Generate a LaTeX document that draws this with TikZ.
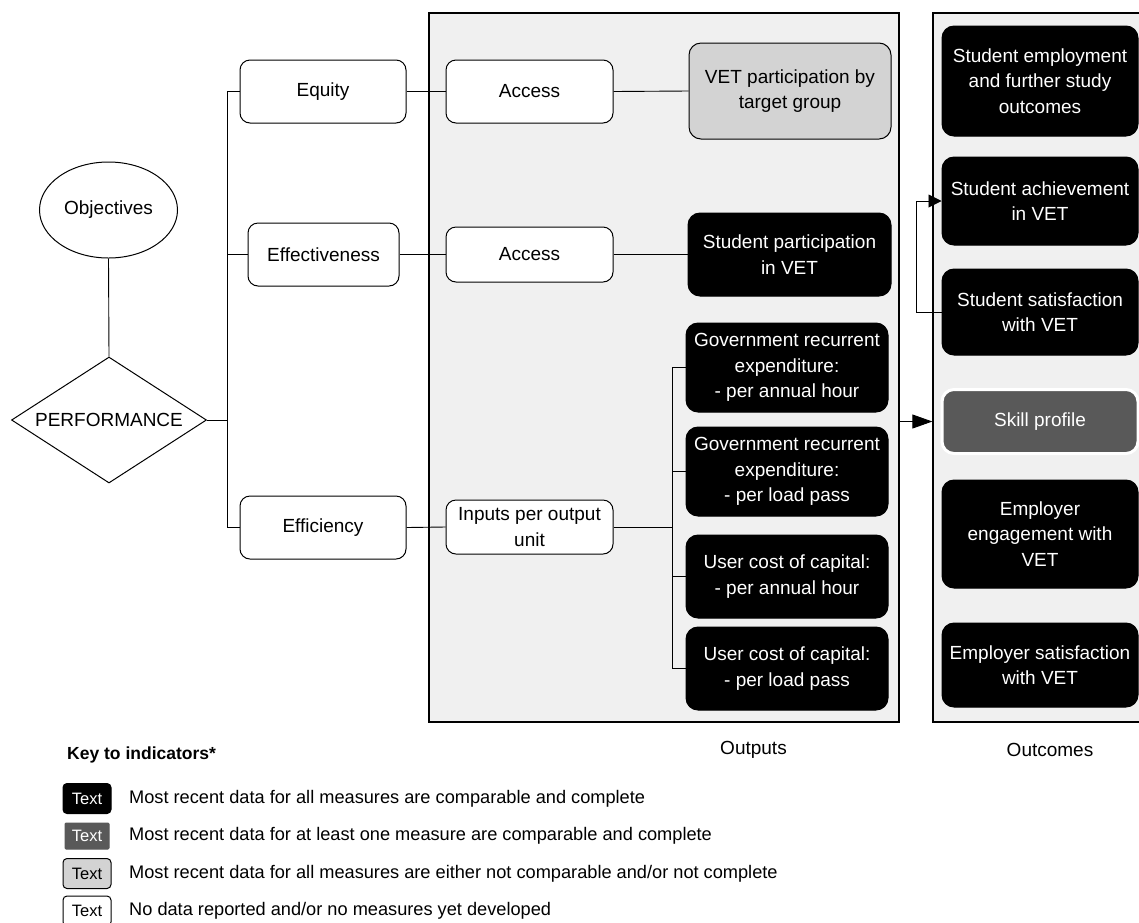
\documentclass[tikz,border=0pt]{standalone}
\usepackage{fontspec}
\setmainfont{Liberation Sans}
\usetikzlibrary{shapes.geometric,arrows.meta}
\definecolor{panelgray}{HTML}{F0F0F0}
\definecolor{lightbox}{HTML}{D3D3D3}
\definecolor{darkbox}{HTML}{595959}
\tikzset{
  x=1pt, y=-1pt,
  basefont/.style={font=\fontsize{19}{25.5}\selectfont},
  panel/.style={draw=black, line width=1.3pt, fill=panelgray, inner sep=0pt},
  whitebox/.style={basefont, draw=black, line width=1pt, fill=white, rounded corners=10pt, align=center, inner sep=2pt},
  blackbox/.style={basefont, draw=black, line width=1pt, fill=black, text=white, rounded corners=12pt, align=center, inner sep=2pt},
  greybox/.style={basefont, draw=black, line width=1pt, fill=lightbox, rounded corners=12pt, align=center, inner sep=2pt},
  darkgreybox/.style={basefont, draw=white, line width=3pt, fill=darkbox, text=white, rounded corners=12pt, align=center, inner sep=2pt},
  conn/.style={draw=black, line width=0.9pt},
  arr/.style={conn, -{Triangle[length=#1, width=13pt]}},
  lbl/.style={basefont, inner sep=0pt},
  keytxt/.style={font=\fontsize{18.2}{22}\selectfont, anchor=west, inner sep=0pt},
  keybox/.style={font=\fontsize{16.5}{20}\selectfont, minimum width=48pt, minimum height=30pt, inner sep=0pt, rounded corners=4pt, line width=1pt},
}
\begin{document}
\begin{tikzpicture}
\useasboundingbox (0,0) rectangle (1139,922);
% panels
\node[panel, minimum width=470pt, minimum height=709pt] (outp) at (664,367.5) {};
\node[panel, minimum width=230pt, minimum height=709pt] (outc) at (1048,367.5) {};
% left side
\node[basefont, draw=black, line width=1pt, ellipse, minimum width=138pt, minimum height=96pt, inner sep=0pt] (obj) at (108.5,210) {Objectives};
\node[basefont, draw=black, line width=1pt, diamond, shape aspect=1.55, minimum width=195pt, minimum height=126pt, inner sep=0pt] (perf) at (109,420) {PERFORMANCE};
\node[whitebox, minimum width=166pt, minimum height=63pt] (equity) at (323,91.5) {Equity};
\node[whitebox, minimum width=151pt, minimum height=63pt] (effect) at (323.5,254.5) {Effectiveness};
\node[whitebox, minimum width=166pt, minimum height=63pt] (effic) at (323,527.5) {Efficiency};
\coordinate (tr) at (227,0);
% outputs
\node[whitebox, minimum width=167pt, minimum height=63pt] (acc1) at (529.5,91.5) {Access};
\node[whitebox, minimum width=167pt, minimum height=55pt] (acc2) at (529.5,254.5) {Access};
\node[whitebox, minimum width=167pt, minimum height=54pt] (inputs) at (529.5,527) {Inputs per output\\unit};
\node[greybox, minimum width=202pt, minimum height=96pt] (vetp) at (790,91) {VET participation by\\target group};
\node[blackbox, minimum width=203pt, minimum height=83pt] (studp) at (789.5,254.5) {Student participation\\in VET};
\node[blackbox, minimum width=202pt, minimum height=89pt] (gov1) at (787,367.5) {Government recurrent\\expenditure:\\- per annual hour};
\node[blackbox, minimum width=202pt, minimum height=89pt] (gov2) at (787,471.5) {Government recurrent\\expenditure:\\- per load pass};
\node[blackbox, minimum width=202pt, minimum height=83pt] (user1) at (787,576.5) {User cost of capital:\\- per annual hour};
\node[blackbox, minimum width=202pt, minimum height=83pt] (user2) at (787,668.5) {User cost of capital:\\- per load pass};
\coordinate (br) at (672,0);
% outcomes
\node[blackbox, minimum width=196pt, minimum height=110pt] (emp) at (1040,81) {Student employment\\and further study\\outcomes};
\node[blackbox, minimum width=196pt, minimum height=88pt] (ach) at (1040,201) {Student achievement\\in VET};
\node[blackbox, minimum width=196pt, minimum height=86pt] (sat) at (1040,312) {Student satisfaction\\with VET};
\node[darkgreybox, minimum width=196pt, minimum height=64pt] (skill) at (1040,421.5) {Skill profile};
\node[blackbox, minimum width=196pt, minimum height=108pt] (eng) at (1040,534) {Employer\\engagement with\\VET};
\node[blackbox, minimum width=196pt, minimum height=84pt] (esat) at (1040,665) {Employer satisfaction\\with VET};
% connectors
\draw[conn] (obj.south) -- (perf.north);
\draw[conn] (perf.east) -- (perf.east -| tr);
\draw[conn] (equity.west) -- (equity.west -| tr) |- (effic.west);
\draw[conn] (effect.west) -- (effect.west -| tr);
\draw[conn] (equity.east) -- (acc1.west);
\draw[conn] (effect.east) -- (acc2.west);
\draw[conn] (effic.east) -- (inputs.west);
\draw[conn] (acc1.east) -- (vetp.west);
\draw[conn] (acc2.east) -- (studp.west);
\draw[conn] (inputs.east) -- (inputs.east -| br);
\draw[conn] (gov1.west) -- (gov1.west -| br) |- (user2.west);
\draw[conn] (gov2.west) -- (gov2.west -| br);
\draw[conn] (user1.west) -- (user1.west -| br);
\draw[arr=13pt] (sat.west) -- ++(-25,0) |- (ach.west);
\draw[conn, -{Triangle[length=20pt, width=14pt]}] (outp.east |- skill.west) -- (outc.west |- skill.west);
% labels
\node[lbl] (outlbl) at (753.5,750) {Outputs};
\node[lbl] (outclbl) at (1050,750) {Outcomes};
% key
\node[font=\fontsize{17.5}{21}\selectfont\bfseries, anchor=west, inner sep=0pt] (keyt) at (67,755) {Key to indicators*};
\node[keybox, fill=black, text=white, draw=black] (k1) at (87,798.5) {Text};
\node[keybox, fill=darkbox, text=white, draw=darkbox, minimum width=44pt, minimum height=26pt, rounded corners=1pt] (k2) at (87,836) {Text};
\node[keybox, fill=lightbox, draw=black] (k3) at (87,873.5) {Text};
\node[keybox, fill=white, draw=black] (k4) at (87,911) {Text};
\node[keytxt] (t1) at (129,798.5) {Most recent data for all measures are comparable and complete};
\node[keytxt] (t2) at (129,836) {Most recent data for at least one measure are comparable and complete};
\node[keytxt] (t3) at (129,873.5) {Most recent data for all measures are either not comparable and/or not complete};
\node[keytxt] (t4) at (129,911) {No data reported and/or no measures yet developed};
\end{tikzpicture}
\end{document}
